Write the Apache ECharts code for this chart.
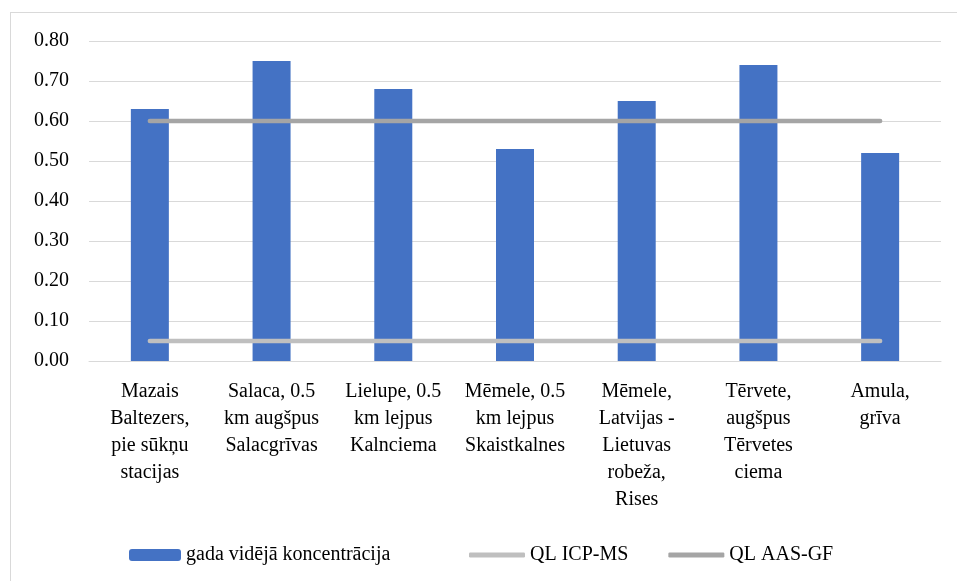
<!DOCTYPE html>
<html>
<head>
<meta charset="utf-8">
<script src="https://cdn.jsdelivr.net/npm/echarts@6/dist/echarts.min.js"></script>
<style>
  html, body { margin: 0; padding: 0; background: #fff; overflow: hidden; }
  #frame { position: absolute; left: 10px; top: 12px; width: 1000px; height: 1000px; border: 1px solid #d9d9d9; }
  #chart { position: absolute; left: 0; top: 0; width: 957px; height: 581px; }
</style>
</head>
<body>
<div id="frame"></div>
<div id="chart"></div>
<script>
// sites (x axis)
var categories = [
  'Mazais\nBaltezers,\npie sūkņu\nstacijas',
  'Salaca, 0.5\nkm augšpus\nSalacgrīvas',
  'Lielupe, 0.5\nkm lejpus\nKalnciema',
  'Mēmele, 0.5\nkm lejpus\nSkaistkalnes',
  'Mēmele,\nLatvijas -\nLietuvas\nrobeža,\nRises',
  'Tērvete,\naugšpus\nTērvetes\nciema',
  'Amula,\ngrīva'
];
var meanValues = [0.63, 0.75, 0.68, 0.53, 0.65, 0.74, 0.52];
var qlIcpMs = [0.05, 0.05, 0.05, 0.05, 0.05, 0.05, 0.05];
var qlAasGf = [0.60, 0.60, 0.60, 0.60, 0.60, 0.60, 0.60];

var seriesNames = ['gada vidējā koncentrācija', 'QL ICP-MS', 'QL AAS-GF'];

var FONT = "'Liberation Serif', 'Times New Roman', serif";

var chart = echarts.init(document.getElementById('chart'));

chart.setOption({
  grid: {
    left: 89,
    right: 16,
    top: 41,
    bottom: 220
  },
  legend: [
    {
      left: 124,
      top: 540,
      itemWidth: 52,
      itemHeight: 12,
      data: [seriesNames[0]],
      textStyle: { fontFamily: FONT, fontSize: 20, color: '#000', padding: [0, 0, 0, 0] }
    },
    {
      left: 464,
      top: 540,
      icon: 'roundRect',
      itemWidth: 56,
      itemHeight: 5,
      itemGap: 40,
      data: [seriesNames[1], seriesNames[2]],
      textStyle: { fontFamily: FONT, fontSize: 20, color: '#000', padding: [0, 0, 0, 0] }
    }
  ],
  xAxis: {
    type: 'category',
    data: categories,
    boundaryGap: true,
    axisLine: { lineStyle: { color: '#d9d9d9', width: 1 } },
    axisTick: { show: false },
    axisLabel: {
      interval: 0,
      margin: 17,
      fontFamily: FONT,
      fontSize: 20,
      lineHeight: 27,
      color: '#000'
    }
  },
  yAxis: {
    type: 'value',
    min: 0,
    max: 0.8,
    interval: 0.1,
    axisLine: { show: false },
    axisTick: { show: false },
    splitLine: { lineStyle: { color: '#d9d9d9', width: 1 } },
    axisLabel: {
      margin: 20,
      fontFamily: FONT,
      fontSize: 20,
      color: '#000',
      formatter: function (v) { return v.toFixed(2); }
    }
  },
  series: [
    {
      name: seriesNames[0],
      type: 'bar',
      data: meanValues,
      barWidth: 38,
      itemStyle: { color: '#4472c4' }
    },
    {
      name: seriesNames[1],
      type: 'line',
      data: qlIcpMs,
      symbol: 'none',
      itemStyle: { color: '#bfbfbf' },
      lineStyle: { color: '#bfbfbf', width: 4.5, cap: 'round' }
    },
    {
      name: seriesNames[2],
      type: 'line',
      data: qlAasGf,
      symbol: 'none',
      itemStyle: { color: '#a5a5a5' },
      lineStyle: { color: '#a5a5a5', width: 4.5, cap: 'round' }
    }
  ]
});
</script>
</body>
</html>
